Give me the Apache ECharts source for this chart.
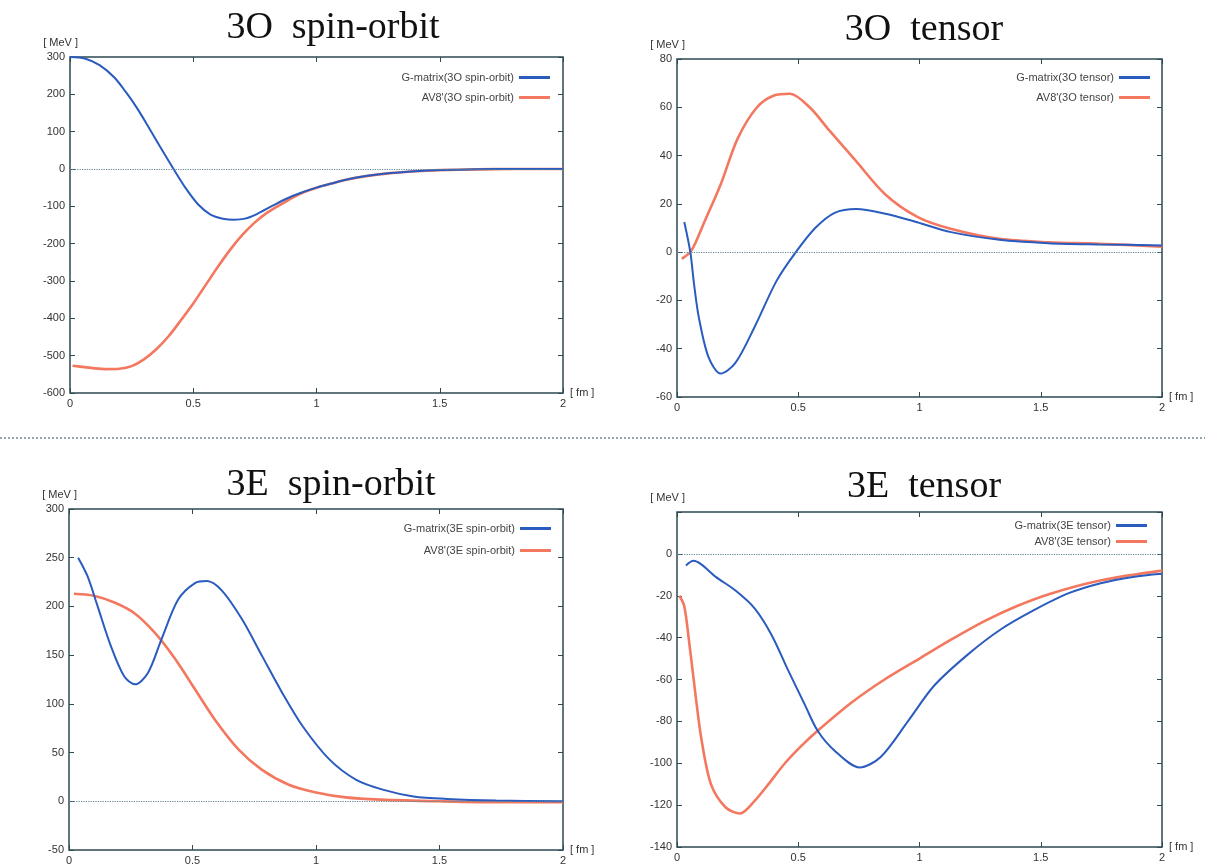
<!DOCTYPE html>
<html>
<head>
<meta charset="utf-8">
<script src="https://cdn.jsdelivr.net/npm/echarts@6/dist/echarts.min.js"></script>
<style>
html, body { margin: 0; padding: 0; background: #fff; }
#chart { width: 1205px; height: 868px; }
</style>
</head>
<body>
<div id="chart"></div>
<script>
// r in fm, potentials in MeV
const xTickLabels = ['0', '0.5', '1', '1.5', '2'];

// 3O spin-orbit
const rG3OSO = [0, 0.06, 0.12, 0.18, 0.23, 0.27, 0.31, 0.365, 0.42, 0.47, 0.52, 0.57, 0.62, 0.665, 0.71, 0.76, 0.82, 0.88, 0.94, 1.0, 1.06, 1.12, 1.2, 1.3, 1.4, 1.5, 1.65, 1.8, 2.0];
const vG3OSO = [300, 296, 278, 245, 203, 165, 122, 60, 0, -52, -95, -122, -133, -136, -133, -120, -99, -79, -63, -50, -39, -29, -19, -11, -6, -3, -1, 0, 0];
const rAV3OSO = [0.01, 0.05, 0.1, 0.15, 0.2, 0.25, 0.3, 0.35, 0.4, 0.45, 0.5, 0.55, 0.6, 0.65, 0.7, 0.75, 0.8, 0.85, 0.9, 0.95, 1.0, 1.06, 1.12, 1.2, 1.3, 1.4, 1.5, 1.65, 1.8, 2.0];
const vAV3OSO = [-527, -530, -534, -536, -535, -528, -510, -483, -448, -405, -360, -311, -262, -216, -176, -143, -117, -97, -78, -62, -50, -39, -29, -19, -11, -6, -3, -1, 0, 0];
const y3OSO = [-600, 300, 100];

// 3O tensor
const rG3OT = [0.03, 0.055, 0.07, 0.09, 0.13, 0.18, 0.24, 0.32, 0.41, 0.49, 0.57, 0.65, 0.74, 0.86, 0.99, 1.13, 1.33, 1.53, 1.74, 2.0];
const vG3OT = [12.5, 0, -13, -27, -43.5, -50.3, -46, -31, -12, 0, 10, 16.3, 17.9, 15.9, 12.4, 8.3, 5.1, 3.7, 3.2, 2.8];
const rAV3OT = [0.02, 0.06, 0.115, 0.18, 0.25, 0.33, 0.4, 0.466, 0.547, 0.628, 0.736, 0.858, 0.993, 1.128, 1.33, 1.53, 1.74, 2.0];
const vAV3OT = [-2.8, 0.7, 13, 28, 47, 60, 64.9, 65.6, 60, 50.4, 38, 24, 14.5, 9.7, 5.5, 4.1, 3.5, 2.3];
const y3OT = [-60, 80, 20];

// 3E spin-orbit
const rG3ESO = [0.037, 0.075, 0.116, 0.17, 0.224, 0.268, 0.32, 0.374, 0.442, 0.51, 0.558, 0.62, 0.7, 0.782, 0.864, 0.946, 1.054, 1.163, 1.27, 1.395, 1.53, 1.73, 2.0];
const vG3ESO = [250, 231, 200, 159, 128, 120, 132, 166, 207, 224, 226, 216, 187, 149, 111, 77, 43, 22, 12, 5, 2.4, 0.7, 0];
const rAV3ESO = [0.02, 0.1, 0.184, 0.265, 0.347, 0.43, 0.51, 0.59, 0.687, 0.78, 0.89, 1.0, 1.12, 1.26, 1.5, 1.75, 2.0];
const vAV3ESO = [213, 211, 204, 193, 173, 146, 115, 84, 53, 32.5, 17, 9, 4, 1.7, 0, -1, -1];
const y3ESO = [-50, 300, 50];

// 3E tensor
const rG3ET = [0.037, 0.068, 0.1, 0.16, 0.24, 0.32, 0.39, 0.46, 0.527, 0.58, 0.65, 0.753, 0.84, 0.952, 1.06, 1.2, 1.336, 1.47, 1.61, 1.747, 1.88, 2.0];
const vG3ET = [-5.5, -3.3, -5, -11, -17.4, -26, -38.7, -56, -72, -84.5, -94, -102, -97, -80, -63, -48, -36, -27, -19, -14, -11, -9.5];
const rAV3ET = [0.01, 0.03, 0.05, 0.075, 0.1, 0.14, 0.2, 0.26, 0.32, 0.377, 0.445, 0.514, 0.58, 0.72, 0.856, 1.0, 1.13, 1.27, 1.4, 1.54, 1.75, 2.0];
const vAV3ET = [-20, -25, -42, -66, -88, -110, -121, -124, -118, -110, -100, -91.6, -84.5, -71, -60, -50, -41, -32, -25, -19, -12.6, -8];
const y3ET = [-140, 20, 20];

const BLUE = '#2a5bbf';
const RED = '#f3785f';
const FRAME = '#2e4a52';

const panels = [
  { title: '3O  spin-orbit', tag: '3O spin-orbit', g: [rG3OSO, vG3OSO], av: [rAV3OSO, vAV3OSO], y: y3OSO,
    grid: { left: 70, top: 57, width: 493, height: 336 }, titlePos: [328, 4], legend: { right: 650, top: 67, itemGap: 9 } },
  { title: '3O  tensor', tag: '3O tensor', g: [rG3OT, vG3OT], av: [rAV3OT, vAV3OT], y: y3OT,
    grid: { left: 677, top: 59, width: 485, height: 338 }, titlePos: [919, 6], legend: { right: 50, top: 67, itemGap: 9 } },
  { title: '3E  spin-orbit', tag: '3E spin-orbit', g: [rG3ESO, vG3ESO], av: [rAV3ESO, vAV3ESO], y: y3ESO,
    grid: { left: 69, top: 509, width: 494, height: 341 }, titlePos: [326, 461], legend: { right: 649, top: 518, itemGap: 11 } },
  { title: '3E  tensor', tag: '3E tensor', g: [rG3ET, vG3ET], av: [rAV3ET, vAV3ET], y: y3ET,
    grid: { left: 677, top: 512, width: 485, height: 335 }, titlePos: [919, 463], legend: { right: 53, top: 515, itemGap: 5 } }
];

const labelStyle = { color: '#333', fontSize: 11, fontFamily: 'Liberation Sans' };
const tickStyle = { show: true, inside: true, length: 5, lineStyle: { color: FRAME, width: 1 } };
const noLine = { show: false, onZero: false };

const option = { animation: false, backgroundColor: '#fff', title: [], grid: [], xAxis: [], yAxis: [], legend: [], series: [] };

panels.forEach((p, i) => {
  option.title.push({
    text: p.title, left: p.titlePos[0], top: p.titlePos[1], textAlign: 'center',
    textStyle: { fontFamily: 'Liberation Serif', fontSize: 38, fontWeight: 'normal', color: '#111' }
  });
  option.grid.push(Object.assign({ show: true, borderColor: FRAME, borderWidth: 1.5, backgroundColor: '#fff' }, p.grid));

  // bottom / left axes with labels
  option.xAxis.push({
    type: 'value', gridIndex: i, position: 'bottom', min: 0, max: 2, interval: 0.5,
    axisLine: noLine, axisTick: tickStyle, splitLine: { show: false },
    axisLabel: Object.assign({ margin: 5, formatter: v => xTickLabels[Math.round(v * 2)] }, labelStyle),
    name: '[ fm ]', nameLocation: 'end', nameGap: 5,
    nameTextStyle: Object.assign({ padding: [0, 0, 6, 0] }, labelStyle)
  });
  option.yAxis.push({
    type: 'value', gridIndex: i, position: 'left', min: p.y[0], max: p.y[1], interval: p.y[2],
    axisLine: noLine, axisTick: tickStyle, splitLine: { show: false },
    axisLabel: Object.assign({ margin: 5, formatter: v => (i === 3 && v === 20) ? '' : String(v) }, labelStyle),
    name: '[ MeV ]', nameLocation: 'end', nameGap: 9,
    nameTextStyle: Object.assign({ align: 'right', padding: [0, -8, 0, 0] }, labelStyle)
  });
  // mirrored ticks on top / right
  option.xAxis.push({
    type: 'value', gridIndex: i, position: 'top', min: 0, max: 2, interval: 0.5,
    axisLine: noLine, axisTick: tickStyle, axisLabel: { show: false }, splitLine: { show: false }
  });
  option.yAxis.push({
    type: 'value', gridIndex: i, position: 'right', min: p.y[0], max: p.y[1], interval: p.y[2],
    axisLine: noLine, axisTick: tickStyle, axisLabel: { show: false }, splitLine: { show: false }
  });

  const gName = 'G-matrix(' + p.tag + ')';
  const aName = "AV8'(" + p.tag + ')';
  option.legend.push(Object.assign({
    orient: 'vertical', align: 'right', data: [gName, aName],
    icon: 'rect', itemWidth: 31, itemHeight: 3,
    textStyle: { color: '#444', fontSize: 11, fontFamily: 'Liberation Sans' }
  }, p.legend));

  option.series.push({
    name: aName, type: 'line', xAxisIndex: 2 * i, yAxisIndex: 2 * i,
    data: p.av[0].map((x, k) => [x, p.av[1][k]]),
    smooth: 0.3, showSymbol: false, color: RED, lineStyle: { color: RED, width: 2.6 }, z: 3
  });
  option.series.push({
    name: gName, type: 'line', xAxisIndex: 2 * i, yAxisIndex: 2 * i,
    data: p.g[0].map((x, k) => [x, p.g[1][k]]),
    smooth: 0.3, showSymbol: false, color: BLUE, lineStyle: { color: BLUE, width: 2 }, z: 4,
    markLine: {
      silent: true, symbol: 'none', label: { show: false },
      lineStyle: { color: '#5f8799', type: 'dotted', width: 1.2 },
      data: [{ yAxis: 0 }]
    }
  });
});

option.graphic = [{
  type: 'line', shape: { x1: 0, y1: 438, x2: 1205, y2: 438 },
  style: { stroke: '#6f8a98', lineWidth: 1.5, lineDash: [2, 2] }
}];

const chart = echarts.init(document.getElementById('chart'));
chart.setOption(option);
window.addEventListener('resize', () => chart.resize());
</script>
</body>
</html>
